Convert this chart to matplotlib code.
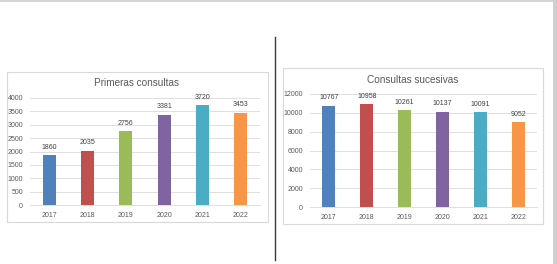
import matplotlib.pyplot as plt
from matplotlib.patches import Rectangle
from matplotlib.lines import Line2D

years = ["2017", "2018", "2019", "2020", "2021", "2022"]
primeras = [1860, 2035, 2756, 3381, 3720, 3453]
sucesivas = [10767, 10958, 10261, 10137, 10091, 9052]
colors = ["#4F81BD", "#C0504D", "#9BBB59", "#8064A2", "#4BACC6", "#F79646"]

W, H = 557, 264
plt.rcParams["font.family"] = ["Liberation Sans", "DejaVu Sans"]

fig = plt.figure(figsize=(W / 100, H / 100), dpi=100)


def fx(px):
    return px / W


def fy(py):
    return 1 - py / H


def box(x0, y0, x1, y1, **kw):
    fig.patches.append(Rectangle((fx(x0), fy(y1)), fx(x1 - x0), (y1 - y0) / H,
                                 transform=fig.transFigure, zorder=-5, **kw))


# page decorations
box(0, 0, 557, 2, facecolor="#d4d4d4", edgecolor="none")
box(553, 0, 557, 264, facecolor="#cfcfcf", edgecolor="none")
fig.lines.append(Line2D([fx(275), fx(275)], [fy(37), fy(260)],
                        transform=fig.transFigure, color="#3a3a3a", lw=1.0))

# chart frames
box(7, 72, 268, 222, facecolor="white", edgecolor="#d9d9d9", lw=0.8)
box(283, 68, 543, 224, facecolor="white", edgecolor="#d9d9d9", lw=0.8)


def panel(rect, values, ymax, step, title, title_xy):
    ax = fig.add_axes(rect)
    x = range(len(years))
    ax.bar(x, values, width=0.34, color=colors, zorder=3)
    ax.set_xlim(-0.5, len(years) - 0.5)
    ax.set_ylim(0, ymax)
    ax.set_yticks(range(0, ymax + 1, step))
    ax.set_xticks(list(x))
    ax.set_xticklabels(years)
    ax.tick_params(axis="both", length=0, labelsize=5, colors="#595959", pad=5)
    ax.grid(axis="y", color="#d9d9d9", lw=0.6, zorder=0)
    for s in ["top", "right", "left"]:
        ax.spines[s].set_visible(False)
    ax.spines["bottom"].set_color("#d9d9d9")
    ax.spines["bottom"].set_linewidth(0.6)
    ax.patch.set_alpha(0)
    for xi, v in zip(x, values):
        ax.annotate(str(v), (xi, v), xytext=(0, 3), textcoords="offset points",
                    ha="center", va="bottom", fontsize=5, color="#404040")
    fig.text(fx(title_xy[0]), fy(title_xy[1]), title, ha="center", va="center",
             fontsize=7.2, color="#595959")
    return ax


panel([fx(30), fy(205), fx(230), 107 / H], primeras, 4000, 500,
      "Primeras consultas", (137, 83))
panel([fx(310), fy(207), fx(227), 113 / H], sucesivas, 12000, 2000,
      "Consultas sucesivas", (413, 80))

fig.savefig("out.png", dpi=100, facecolor="white")
